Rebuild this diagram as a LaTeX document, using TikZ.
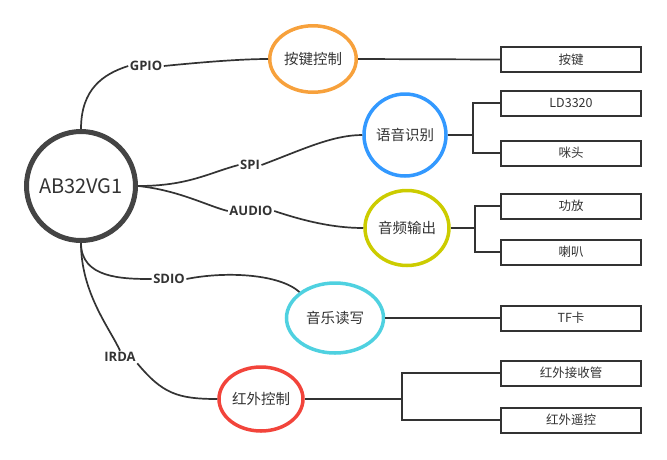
\documentclass[tikz,border=0pt]{standalone}
\usepackage{fontspec}
\setmainfont{Noto Sans CJK SC}
\newfontfamily\busfont{Open Sans}
\usetikzlibrary{shapes.geometric}
\definecolor{ink}{HTML}{333333}
\definecolor{hubline}{HTML}{444444}
\definecolor{orange}{HTML}{F7A13C}
\definecolor{blue}{HTML}{3399FF}
\definecolor{olive}{HTML}{CCCC00}
\definecolor{cyan}{HTML}{4FD1E0}
\definecolor{red}{HTML}{F2443B}

\begin{document}
\begin{tikzpicture}[
  x=1pt, y=-1pt,
  hub/.style={circle, draw=hubline, line width=5pt, minimum size=109pt, inner sep=0pt,
    font=\fontsize{20}{24}\selectfont, text=ink},
  topic/.style={ellipse, line width=3.5pt, inner sep=0pt,
    font=\fontsize{14.5}{17}\selectfont, text=ink},
  leaf/.style={rectangle, draw=ink, line width=2pt, minimum width=140pt, minimum height=25pt,
    inner sep=0pt, font=\fontsize{12.5}{15}\selectfont, text=ink},
  bus/.style={font=\busfont\bfseries\fontsize{13}{15}\selectfont, text=ink, inner sep=1.5pt},
  link/.style={draw=ink, line width=1.7pt}
]
\useasboundingbox (0,0) rectangle (667,459);

\node[hub] (hub) at (81,186) {AB32VG1};

% second level
\node[topic, draw=orange, minimum width=86.5pt, minimum height=66.5pt] (keyctl) at (313,59) {按键控制};
\node[topic, draw=blue, minimum width=80pt, minimum height=82pt] (voice) at (405,135) {语音识别};
\node[topic, draw=olive, minimum width=84pt, minimum height=75pt] (audioout) at (407,228) {音频输出};
\node[topic, draw=cyan, minimum width=97pt, minimum height=70pt] (music) at (335,318) {音乐读写};
\node[topic, draw=red, minimum width=84pt, minimum height=64pt] (irctl) at (261,399) {红外控制};

% leaves
\node[leaf] (key) at (571,59.5) {按键};
\node[leaf] (ld) at (571,103) {LD3320};
\node[leaf] (mic) at (571,153) {咪头};
\node[leaf] (amp) at (571,206) {功放};
\node[leaf] (horn) at (571,252) {喇叭};
\node[leaf] (tf) at (571,318) {TF卡};
\node[leaf] (irrx) at (571,373) {红外接收管};
\node[leaf] (remote) at (571,420) {红外遥控};

% bus labels
\node[bus] (gpio) at (146,66) {GPIO};
\node[bus] (spi) at (250,165) {SPI};
\node[bus] (audio) at (251,211) {AUDIO};
\node[bus] (sdio) at (169,279) {SDIO};
\node[bus] (irda) at (120,357) {IRDA};

\draw[link] (hub.north) .. controls +(0,-40) and +(-25,8) .. (gpio.west);
\draw[link] (gpio.east) .. controls +(30,-3) and +(-30,0) .. (keyctl.west);
\draw[link] (hub.east) .. controls +(50,0) and +(-30,8) .. (spi.west);
\draw[link] (spi.east) .. controls +(40,-15) and +(-30,0) .. (voice.west);
\draw[link] (hub.east) .. controls +(40,4) and +(-20,-5) .. (audio.west);
\draw[link] (audio.east) .. controls +(30,10) and +(-30,0) .. (audioout.west);
\draw[link] (hub.south) .. controls +(0,35) and +(-30,0) .. (sdio.west);
\draw[link] (sdio.east) .. controls +(40,-8) and +(-20,-18) .. (music.north west);
\draw[link] (hub.south) .. controls +(0,50) and +(-10,-22) .. (irda.north);
\draw[link] (irda.south east) .. controls +(25,30) and +(-40,0) .. (irctl.west);

% forks
\draw[link] (keyctl.east) -- (key.west);
\coordinate (voicefork) at (473,135);
\draw[link] (voice.east) -- (voicefork) |- (ld.west);
\draw[link] (voicefork) |- (mic.west);
\coordinate (audiofork) at (475,228);
\draw[link] (audioout.east) -- (audiofork) |- (amp.west);
\draw[link] (audiofork) |- (horn.west);
\draw[link] (music.east) -- (tf.west);
\coordinate (irfork) at (402,399);
\draw[link] (irctl.east) -- (irfork) |- (irrx.west);
\draw[link] (irfork) |- (remote.west);

\end{tikzpicture}
\end{document}
